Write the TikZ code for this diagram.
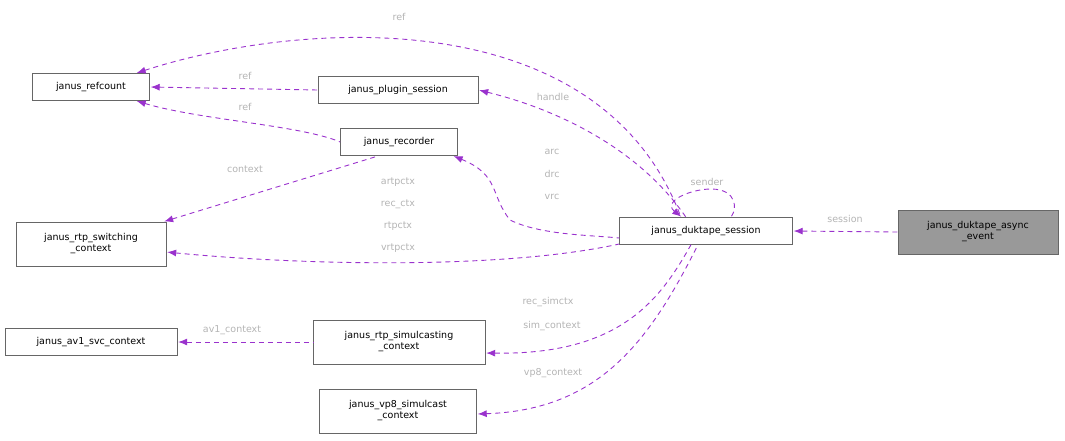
\documentclass[tikz,border=0pt]{standalone}
\usepackage{fontspec}
\setmainfont{DejaVu Sans}
\usetikzlibrary{arrows.meta}
\definecolor{edgecol}{HTML}{9A32CD}
\definecolor{labcol}{HTML}{B4B4B4}
\begin{document}
\begin{tikzpicture}
[x=1pt,y=-1pt,
block/.style ={rectangle, draw=black!60, fill=white, font=\fontsize{9.5}{11}\selectfont,
align=center, inner sep=0pt, minimum height=27pt},
big/.style   ={block, minimum height=44pt},
line/.style  ={draw=edgecol, line width=0.9pt, dash pattern=on 5pt off 4pt,
{Latex[length=9pt,width=7pt]}-, shorten <=1pt},
lab/.style   ={text=labcol, font=\fontsize{9.5}{11}\selectfont, inner sep=0pt}]
\useasboundingbox (0,0) rectangle (1065,440);
% nodes
\node [block, minimum width=117pt] (refcount) at (91,87)  {janus\_refcount};
\node [block, minimum width=160pt] (plugin)   at (398,90) {janus\_plugin\_session};
\node [block, minimum width=117pt] (recorder) at (399,142) {janus\_recorder};
\node [big, minimum width=150pt]   (switch)   at (91,244) {janus\_rtp\_switching\\\_context};
\node [block, minimum width=173pt] (session)  at (706,231) {janus\_duktape\_session};
\node [big, minimum width=160pt, fill=black!40] (event) at (978,232) {janus\_duktape\_async\\\_event};
\node [block, minimum width=172pt] (av1)      at (91,342) {janus\_av1\_svc\_context};
\node [big, minimum width=172pt]   (simul)    at (399,342) {janus\_rtp\_simulcasting\\\_context};
\node [big, minimum width=157pt]   (vp8)      at (398,411) {janus\_vp8\_simulcast\\\_context};
% connectors
\coordinate (r1) at ([xshift=-14pt]refcount.north east);
\coordinate (r2) at ([xshift=-14pt]refcount.south east);
\coordinate (s1) at ([xshift=-3pt]switch.north east);
\coordinate (s2) at ([yshift=-8pt]switch.east);
\path [line] (session.east) -- (event.west);
\path [line] (r1) .. controls (300,20) and (600,0) .. ([xshift=-25pt]session.north);
\path [line] (refcount.east) -- (plugin.west);
\path [line] (r2) .. controls (200,120) and (300,125) .. (recorder.west);
\path [line] (s1) -- ([xshift=-20pt]recorder.south);
\path [line] (plugin.east) .. controls (560,110) and (640,150) .. ([xshift=-20pt]session.north);
\path [line] ([xshift=-5pt]recorder.south east) .. controls (500,175) and (490,195) .. (510,220)
  .. controls (540,235) and (590,235) .. ([yshift=-7pt]session.west);
\path [line] (s2) .. controls (300,265) and (500,270) .. ([yshift=-13pt]session.west);
\path [line] ([xshift=-24pt]session.north) .. controls (660,200) and (700,185) .. (720,190)
  .. controls (740,195) and (735,215) .. ([xshift=24pt]session.north);
\path [line] ([yshift=-11pt]simul.east) .. controls (620,355) and (660,300) .. ([xshift=-15pt]session.south);
\path [line] ([yshift=-3pt]vp8.east) .. controls (600,410) and (650,340) .. ([xshift=-8pt]session.south);
\path [line] (av1.east) -- (simul.west);
% labels
\node [lab] at (845,219) {session};
\node [lab] at (399,17)  {ref};
\node [lab] at (245,76)  {ref};
\node [lab] at (245,107) {ref};
\node [lab] at (245,169) {context};
\node [lab] at (553,97)  {handle};
\node [lab] at (552,152) {arc};
\node [lab] at (552,174) {drc};
\node [lab] at (552,197) {vrc};
\node [lab] at (398,182) {artpctx};
\node [lab] at (398,204) {rec\_ctx};
\node [lab] at (398,226) {rtpctx};
\node [lab] at (398,248) {vrtpctx};
\node [lab] at (707,182) {sender};
\node [lab] at (548,302) {rec\_simctx};
\node [lab] at (552,326) {sim\_context};
\node [lab] at (553,373) {vp8\_context};
\node [lab] at (232,330) {av1\_context};
\end{tikzpicture}
\end{document}
